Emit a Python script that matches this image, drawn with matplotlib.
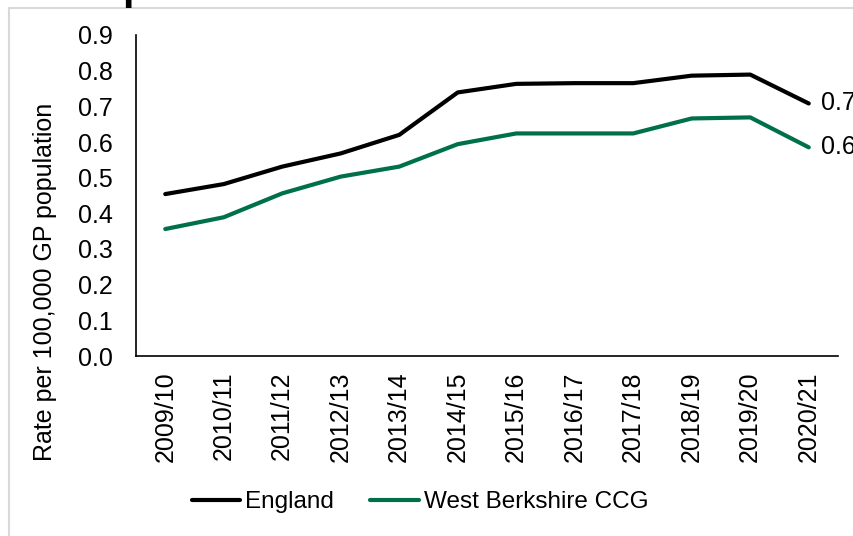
import matplotlib
matplotlib.use("Agg")
import matplotlib.pyplot as plt
from matplotlib.patches import Rectangle

plt.rcParams['font.family'] = ['Liberation Sans', 'DejaVu Sans']

years = ["2009/10", "2010/11", "2011/12", "2012/13", "2013/14", "2014/15",
         "2015/16", "2016/17", "2017/18", "2018/19", "2019/20", "2020/21"]
england = [0.454, 0.482, 0.531, 0.568, 0.620, 0.739, 0.763, 0.765, 0.765, 0.786, 0.789, 0.708]
west_berks = [0.356, 0.389, 0.456, 0.503, 0.531, 0.594, 0.624, 0.624, 0.624, 0.666, 0.669, 0.585]
yticks = [0.0, 0.1, 0.2, 0.3, 0.4, 0.5, 0.6, 0.7, 0.8, 0.9]

W, H = 854, 536
fig = plt.figure(figsize=(W / 100, H / 100), dpi=100)
ax = fig.add_axes([136 / W, 1 - 356 / H, (838 - 136) / W, (356 - 35) / H])

green = '#00704a'
x = list(range(len(years)))
ax.plot(x, england, color='black', lw=3, label='England', solid_capstyle='round')
ax.plot(x, west_berks, color=green, lw=3, label='West Berkshire CCG', solid_capstyle='round')

for series in (england, west_berks):
    ax.annotate(f"{series[-1]:.1f}", xy=(x[-1], series[-1]), xytext=(8.6, 0),
                textcoords='offset points', va='center', ha='left', fontsize=18,
                annotation_clip=False)

ax.set_xlim(-0.5, len(years) - 0.5)
ax.set_ylim(0, 0.9)
ax.set_yticks(yticks)
ax.set_yticklabels([f"{v:.1f}" for v in yticks])
ax.set_xticks(x)
ax.set_xticklabels(years, rotation=90)
ax.tick_params(axis='y', length=0, pad=16.5, labelsize=18)
ax.tick_params(axis='x', length=0, pad=11, labelsize=18)
for s in ('top', 'right'):
    ax.spines[s].set_visible(False)
for s in ('left', 'bottom'):
    ax.spines[s].set_linewidth(1.2)
    ax.spines[s].set_color('black')

fig.text(45 / W, 1 - 282 / H, "Rate per 100,000 GP population", rotation=90,
         ha='center', va='center', fontsize=18)

leg = fig.legend(loc='center', bbox_to_anchor=(420 / W, 1 - 502 / H), ncol=2,
                 frameon=False, fontsize=17.5, handlelength=2.0, handletextpad=0.2,
                 columnspacing=1.5)

# outer chart-area border (partially cut off)
fig.patches.append(Rectangle((9 / W, -0.05), 1.1, 1 - 8 / H + 0.05,
                             transform=fig.transFigure, fill=False,
                             edgecolor='#d9d9d9', lw=1.5))
# fragment of the cut-off title
fig.text(122 / W, 1 + 1 / H, "p", fontsize=30, fontweight='bold', ha='left', va='baseline')

fig.savefig("out.png", dpi=100)
